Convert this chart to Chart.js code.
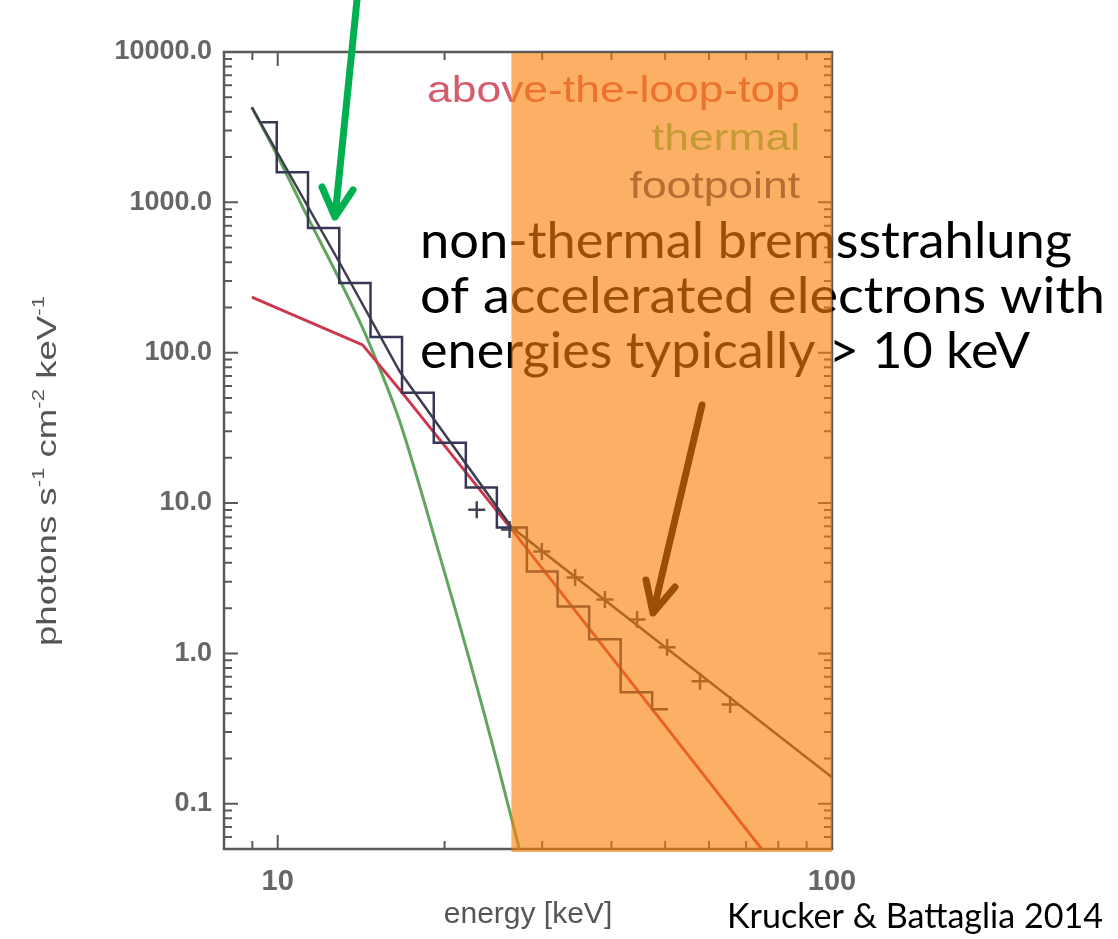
<!DOCTYPE html>
<html>
<head>
<meta charset="utf-8">
<script src="https://cdn.jsdelivr.net/npm/chart.js@4.4.0/dist/chart.umd.min.js"></script>
<style>
    html, body { margin: 0; padding: 0; background: #fff; }
    #spectrumChart { display: block; }
</style>
</head>
<body>
<canvas id="spectrumChart" width="1118" height="939"></canvas>
<script>
// measured spectrum, drawn as a histogram (bin centres in keV)
const histEnergy = [9.34, 10.62, 12.11, 13.77, 15.70, 17.89, 20.44, 23.35, 26.45, 29.96, 34.15, 38.93, 44.37, 50.58];
const histFlux = [3409, 1587, 674, 291, 127, 54.1, 25.2, 12.7, 6.87, 3.50, 2.05, 1.24, 0.551, 0.425];

// footpoint spectrum (+ symbols)
const crossEnergy = [22.86, 26.2, 29.96, 34.4, 38.93, 44.5, 50.4, 57.8, 65.5];
const crossFlux = [9.04, 6.66, 4.76, 3.20, 2.28, 1.68, 1.10, 0.652, 0.458];

// fitted models
const thermalEnergy = [8.98, 10.08, 11.28, 12.94, 14.47, 16.61, 19.60, 22.22, 24.85, 27.57];
const thermalFlux = [4286, 1906, 822, 304, 127, 34.7, 4.47, 0.885, 0.192, 0.0429];
const footpointEnergy = [8.98, 12.94, 16.61, 20.96, 26.45, 100];
const footpointFlux = [4286, 395, 74.6, 22.6, 6.87, 0.150];
const loopTopEnergy = [8.98, 14.23, 16.61, 26.45, 100];
const loopTopFlux = [234.6, 112.7, 56.6, 6.66, 0.0126];

const xTicks = [10, 100];
const yTicks = [0.1, 1, 10, 100, 1000, 10000];
const legendLabels = ['above-the-loop-top', 'thermal', 'footpoint'];
const legendColors = ['rgb(212,92,108)', 'rgb(112,196,126)', 'rgb(78,82,118)'];
const nonThermalBand = [26.4, 100];

const annotationLines = ['non-thermal bremsstrahlung', 'of accelerated electrons with', 'energies typically > 10 keV'];
const creditText = 'Krucker & Battaglia 2014';

const HELV = '"Liberation Sans", Arial, Helvetica, sans-serif';
const AXIS_GREY = '#555';
const TICK_GREY = '#666';

function toPoints(xs, ys) {
    return xs.map((x, i) => ({ x: x, y: ys[i] }));
}

function logSteps(min, max) {
    const out = [];
    for (let e = Math.floor(Math.log10(min)); e <= Math.ceil(Math.log10(max)); e++) {
        for (let m = 1; m < 10; m++) {
            const v = m * Math.pow(10, e);
            if (v >= min * 0.999 && v <= max * 1.001) out.push([v, m === 1]);
        }
    }
    return out;
}

// text squeezed / stretched horizontally to a given width
function fitText(ctx, text, x, y, width, font, color, align) {
    ctx.save();
    ctx.font = font;
    ctx.fillStyle = color;
    ctx.textBaseline = 'alphabetic';
    const w = ctx.measureText(text).width;
    const k = width / w;
    const left = align === 'right' ? x - width : x;
    ctx.translate(left, y);
    ctx.scale(k, 1);
    ctx.textAlign = 'left';
    ctx.fillText(text, 0, 0);
    ctx.restore();
}

function arrow(ctx, from, tip, armA, armB, color, width) {
    ctx.save();
    ctx.strokeStyle = color;
    ctx.lineWidth = width;
    ctx.lineCap = 'round';
    ctx.lineJoin = 'round';
    ctx.beginPath();
    ctx.moveTo(from[0], from[1]);
    ctx.lineTo(tip[0], tip[1]);
    ctx.moveTo(armA[0], armA[1]);
    ctx.lineTo(tip[0], tip[1]);
    ctx.lineTo(armB[0], armB[1]);
    ctx.stroke();
    ctx.restore();
}

const frameTicks = {
    id: 'frameTicks',
    beforeDatasetsDraw(chart) {
        const { ctx, chartArea: a, scales: { x, y } } = chart;
        ctx.save();
        ctx.strokeStyle = '#595959';
        ctx.lineWidth = 2.5;
        ctx.strokeRect(a.left, a.top, a.right - a.left, a.bottom - a.top);
        ctx.lineWidth = 2;
        ctx.beginPath();
        logSteps(x.min, x.max).forEach(([v, major]) => {
            const px = x.getPixelForValue(v);
            const len = major ? 14 : 8;
            ctx.moveTo(px, a.bottom); ctx.lineTo(px, a.bottom - len);
            ctx.moveTo(px, a.top); ctx.lineTo(px, a.top + len);
        });
        logSteps(y.min, y.max).forEach(([v, major]) => {
            const py = y.getPixelForValue(v);
            const len = major ? 14 : 8;
            ctx.moveTo(a.left, py); ctx.lineTo(a.left + len, py);
            ctx.moveTo(a.right, py); ctx.lineTo(a.right - len, py);
        });
        ctx.stroke();
        ctx.restore();
    }
};

const overlays = {
    id: 'overlays',
    afterDraw(chart) {
        const { ctx, chartArea: a, scales: { x } } = chart;

        // legend of the original figure
        const legendBase = [102, 150, 198];
        ctx.save();
        ctx.font = '37px ' + HELV;
        const k = 373 / ctx.measureText(legendLabels[0]).width;
        ctx.restore();
        legendLabels.forEach((label, i) => {
            ctx.save();
            ctx.font = '37px ' + HELV;
            const w = ctx.measureText(label).width * k;
            ctx.restore();
            fitText(ctx, label, 800, legendBase[i], w, '37px ' + HELV, legendColors[i], 'right');
        });

        // y axis title with superscripts
        const parts = [['photons s', false], ['-1', true], [' cm', false], ['-2', true], [' keV', false], ['-1', true]];
        const size = 28;
        const fontFor = (sup) => (sup ? Math.round(size * 0.6) : size) + 'px ' + HELV;
        let total = 0;
        parts.forEach(([t, sup]) => {
            ctx.font = fontFor(sup);
            total += ctx.measureText(t).width;
        });
        ctx.save();
        ctx.translate(47, 471);
        ctx.rotate(-Math.PI / 2);
        ctx.scale(350 / total, 1);
        ctx.fillStyle = AXIS_GREY;
        ctx.textBaseline = 'alphabetic';
        let cx = -total / 2;
        parts.forEach(([t, sup]) => {
            ctx.font = fontFor(sup);
            ctx.fillText(t, cx, sup ? -3 : 9);
            cx += ctx.measureText(t).width;
        });
        ctx.restore();

        // slide annotation (black, tinted by the band drawn after it)
        const lineBase = [258, 313, 368];
        const lineWidth = [652, 685, 610];
        annotationLines.forEach((t, i) => {
            fitText(ctx, t, 420, lineBase[i], lineWidth[i], '50px Lato, "Open Sans", sans-serif', '#000', 'left');
        });
        arrow(ctx, [702, 405], [653, 613], [646, 580], [675, 587], '#000', 7);

        // non-thermal energy band
        const x0 = x.getPixelForValue(nonThermalBand[0]);
        const x1 = x.getPixelForValue(nonThermalBand[1]);
        ctx.save();
        ctx.fillStyle = 'rgba(250,128,8,0.62)';
        ctx.fillRect(x0, a.top + 1, x1 - x0, a.bottom - a.top + 2);
        ctx.restore();

        arrow(ctx, [357, 0], [335, 217], [322, 187], [353, 190], 'rgb(0,176,80)', 7);

        fitText(ctx, creditText, 727, 928, 376, '34px Lato, "Open Sans", sans-serif', '#000', 'left');
    }
};

new Chart(document.getElementById('spectrumChart'), {
    type: 'line',
    data: {
        datasets: [
            {
                label: 'histogram',
                data: toPoints(histEnergy, histFlux),
                stepped: 'middle',
                borderColor: 'rgb(55,55,85)',
                borderWidth: 2.5,
                pointRadius: 0,
                fill: false
            },
            {
                label: 'footpoint points',
                data: toPoints(crossEnergy, crossFlux),
                showLine: false,
                pointStyle: 'cross',
                pointRadius: 8.5,
                pointBorderWidth: 2.5,
                pointBorderColor: 'rgb(70,70,82)',
                pointBackgroundColor: 'rgb(70,70,82)'
            },
            {
                label: 'footpoint',
                data: toPoints(footpointEnergy, footpointFlux),
                borderColor: 'rgb(62,62,78)',
                borderWidth: 2.5,
                pointRadius: 0,
                tension: 0
            },
            {
                label: 'above-the-loop-top',
                data: toPoints(loopTopEnergy, loopTopFlux),
                borderColor: 'rgb(205,55,78)',
                borderWidth: 3,
                pointRadius: 0,
                tension: 0
            },
            {
                label: 'thermal',
                data: toPoints(thermalEnergy, thermalFlux),
                borderColor: 'rgb(98,165,92)',
                borderWidth: 3,
                pointRadius: 0,
                tension: 0.3
            }
        ]
    },
    options: {
        responsive: false,
        animation: false,
        devicePixelRatio: 1,
        layout: {
            autoPadding: false,
            padding: { left: 0, top: 52, right: 286, bottom: 0 }
        },
        plugins: {
            legend: { display: false },
            tooltip: { enabled: false }
        },
        scales: {
            x: {
                type: 'logarithmic',
                min: 8,
                max: 100,
                grid: { display: false, drawTicks: false },
                border: { display: false },
                afterBuildTicks: (scale) => { scale.ticks = xTicks.map(v => ({ value: v })); },
                afterFit: (scale) => { scale.height = 90; },
                ticks: {
                    autoSkip: false,
                    maxRotation: 0,
                    padding: 16,
                    color: TICK_GREY,
                    font: { family: HELV, size: 29, weight: 'bold' },
                    callback: (v) => String(v)
                },
                title: {
                    display: true,
                    text: 'energy [keV]',
                    color: AXIS_GREY,
                    font: { family: HELV, size: 30 },
                    padding: { top: 0, bottom: 6 }
                }
            },
            y: {
                type: 'logarithmic',
                min: 0.05,
                max: 10000,
                grid: { display: false, drawTicks: false },
                border: { display: false },
                afterBuildTicks: (scale) => { scale.ticks = yTicks.map(v => ({ value: v })); },
                afterFit: (scale) => { scale.width = 224; },
                ticks: {
                    autoSkip: false,
                    padding: 12,
                    color: TICK_GREY,
                    font: { family: HELV, size: 27, weight: 'bold' },
                    callback: (v) => Number(v).toFixed(1)
                }
            }
        }
    },
    plugins: [frameTicks, overlays]
});
</script>
</body>
</html>
